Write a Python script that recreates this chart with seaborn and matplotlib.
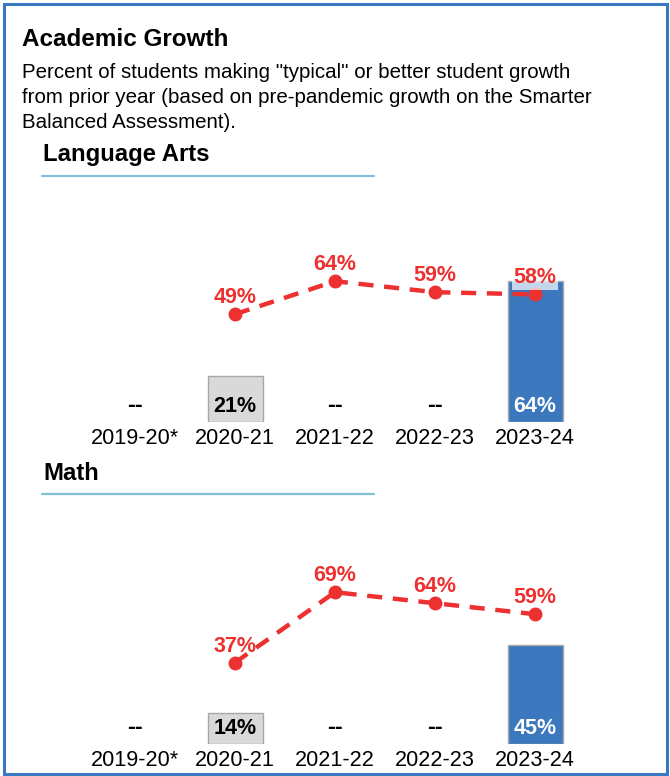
import numpy as np
import pandas as pd
import matplotlib
matplotlib.use("Agg")
import matplotlib.pyplot as plt
from matplotlib.patches import Rectangle
from matplotlib.lines import Line2D
import seaborn as sns

# data
years = ["2019-20*", "2020-21", "2021-22", "2022-23", "2023-24"]
la_bar = [np.nan, 21, np.nan, np.nan, 64]
la_line = [np.nan, 49, 64, 59, 58]
math_bar = [np.nan, 14, np.nan, np.nan, 45]
math_line = [np.nan, 37, 69, 64, 59]
bar_colors = {"2019-20*": "#d9d9d9", "2020-21": "#d9d9d9", "2021-22": "#d9d9d9",
              "2022-23": "#d9d9d9", "2023-24": "#3b78bd"}
label_colors = {"2020-21": "black", "2023-24": "white"}

RED = "#ec3130"
BLUE_BORDER = "#3b78c2"
W, H = 670, 776

sns.set_style("white")
plt.rcParams["font.family"] = ["Liberation Sans", "DejaVu Sans"]
plt.rcParams["text.color"] = "black"
plt.rcParams["xtick.color"] = "black"

fig = plt.figure(figsize=(W / 100, H / 100), dpi=100)


def fx(x):
    return x / W


def fy(y):
    return 1 - y / H


# outer border
fig.patches.append(Rectangle((fx(4), fy(774)), fx(663), 770 / H, transform=fig.transFigure,
                             fill=False, edgecolor=BLUE_BORDER, linewidth=2.2))

fig.text(fx(22), fy(40), "Academic Growth", fontsize=17.5, fontweight="bold", va="center")
fig.text(fx(22), fy(63),
         'Percent of students making "typical" or better student growth\n'
         'from prior year (based on pre-pandemic growth on the Smarter\n'
         'Balanced Assessment).',
         fontsize=14.8, va="top", linespacing=1.4)


def panel(title, title_y, base_y, bars, line):
    fig.text(fx(43), fy(title_y), title, fontsize=17.2, fontweight="bold", va="center")
    fig.add_artist(Line2D([fx(42), fx(374)], [fy(title_y + 21)] * 2, color="#7fc0d6",
                          linewidth=1.6, transform=fig.transFigure))

    ax = fig.add_axes([fx(85), 1 - base_y / H, 500 / W, 220 / H])
    df = pd.DataFrame({"year": years, "bar": bars, "line": line})
    sns.barplot(data=df, x="year", y="bar", hue="year", palette=bar_colors, order=years,
                width=0.55, edgecolor="#a8a8a8", linewidth=1, saturation=1, legend=False,
                ax=ax, zorder=2)
    sns.pointplot(data=df, x="year", y="line", order=years, color=RED, errorbar=None,
                  markers="o", ax=ax)
    for ln in ax.lines:
        ln.set_linestyle((0, (3.4, 2.4)))
        ln.set_linewidth(3.2)
        ln.set_markersize(8)
        ln.set_zorder(4)
    for coll in ax.collections:
        coll.set_zorder(5)
        coll.set_sizes([70])

    for i, yr in enumerate(years):
        v = bars[i]
        if np.isnan(v):
            ax.text(i, 7.5, "--", ha="center", va="center", fontsize=17, fontweight="bold")
        else:
            ax.text(i, 7, f"{int(v)}%", ha="center", va="center", fontsize=15.5,
                    fontweight="bold", color=label_colors[yr], zorder=6)
        p = line[i]
        if not np.isnan(p):
            box = None
            if not np.isnan(v) and v > p - 8:
                box = dict(facecolor="white", alpha=0.7, edgecolor="none", pad=1)
            ax.text(i, p + 7.5, f"{int(p)}%", ha="center", va="center", fontsize=15.5,
                    fontweight="bold", color=RED, zorder=6, bbox=box)

    ax.set_xlim(-0.5, 4.5)
    ax.set_ylim(0, 100)
    ax.set_xlabel("")
    ax.set_ylabel("")
    ax.set_yticks([])
    ax.tick_params(axis="x", length=0, pad=4, labelsize=15.6)
    sns.despine(ax=ax, left=True, bottom=True)
    ax.patch.set_alpha(0)
    return ax


panel("Language Arts", 155, 422, la_bar, la_line)
panel("Math", 473, 744, math_bar, math_line)

fig.savefig("out.png", dpi=100)
